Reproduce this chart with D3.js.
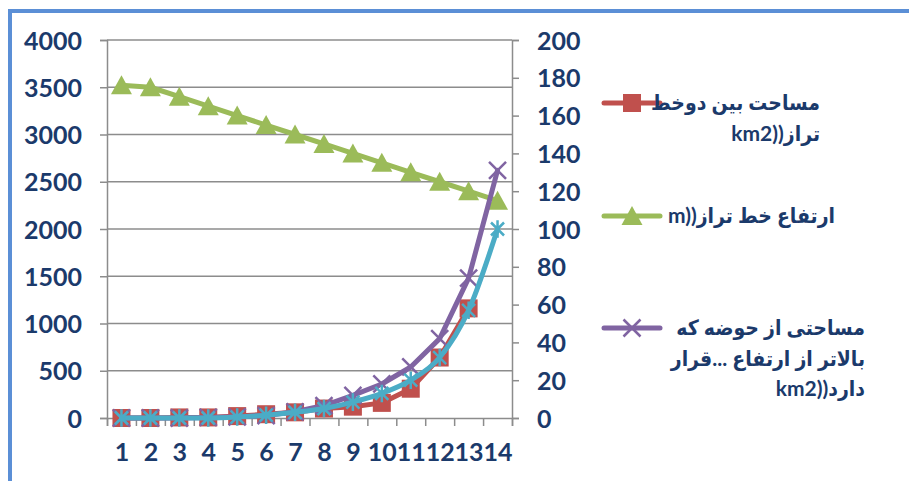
<!DOCTYPE html>
<html>
<head>
<meta charset="utf-8">
<script src="https://cdn.jsdelivr.net/npm/d3@7"></script>
<style>
  html, body { margin: 0; padding: 0; background: #fff; }
  svg { display: block; }
  text { font-family: Lato, "DejaVu Sans", sans-serif; font-weight: bold; fill: #1B3A6B; }
  text.legend-text { font-family: Lato, "DejaVu Sans Condensed", "DejaVu Sans", sans-serif; }
</style>
</head>
<body>
<svg id="chart" width="909" height="481"></svg>
<script>
// ---- data ----
const categories = [1, 2, 3, 4, 5, 6, 7, 8, 9, 10, 11, 12, 13, 14];
// elevation of contour line (m) - left axis
const elevation = [3520, 3500, 3400, 3300, 3200, 3100, 3000, 2900, 2800, 2700, 2600, 2500, 2400, 2300];
// area between two contour lines (km2) - right axis
const areaBetween = [0, 0, 0.3, 0.3, 1, 2, 3, 5, 6, 8, 15.5, 32, 58, null];
// area of basin above elevation (km2) - right axis
const areaAbove = [0, 0, 0, 0.3, 0.6, 1.3, 3.3, 6.6, 12, 18, 27, 42, 74, 131];
// fourth series (smoothed) - right axis
const areaSmooth = [0, 0, 0, 0, 0.5, 1.5, 3, 5, 8.4, 13, 20, 32, 57, 100];
const leftTicks = [0, 500, 1000, 1500, 2000, 2500, 3000, 3500, 4000];
const rightTicks = [0, 20, 40, 60, 80, 100, 120, 140, 160, 180, 200];
const legendLabels = [
  ["مساحت بین دوخط", "km2))تراز"],
  ["m))ارتفاع خط تراز"],
  ["مساحتی از حوضه که", "بالاتر از ارتفاع ...قرار", "km2))دارد"]
];

// ---- layout ----
const svg = d3.select("#chart");
const plot = { left: 107, right: 512, top: 40, bottom: 418 };
const colors = { red: "#C0504D", green: "#9BBB59", purple: "#8064A2", cyan: "#4BACC6" };
const gridColor = "#8C8C8C";

// outer border (blue)
svg.append("path")
  .attr("d", "M10,481 L10,11 L909,11")
  .attr("fill", "none").attr("stroke", "#5B8FD6").attr("stroke-width", 4);

const x = d3.scaleLinear().domain([0.5, 14.5]).range([plot.left, plot.right]);
const yL = d3.scaleLinear().domain([0, 4000]).range([plot.bottom, plot.top]);
const yR = d3.scaleLinear().domain([0, 200]).range([plot.bottom, plot.top]);

// gridlines
svg.append("g").selectAll("line").data(leftTicks.slice(1)).join("line")
  .attr("x1", plot.left).attr("x2", plot.right)
  .attr("y1", d => yL(d)).attr("y2", d => yL(d))
  .attr("stroke", gridColor).attr("stroke-width", 1.5);

// left axis
const gL = svg.append("g").attr("transform", `translate(${plot.left},0)`)
  .call(d3.axisLeft(yL).tickValues(leftTicks).tickSize(7).tickPadding(18).tickFormat(d3.format("d")));
// right axis
const gR = svg.append("g").attr("transform", `translate(${plot.right},0)`)
  .call(d3.axisRight(yR).tickValues(rightTicks).tickSize(7).tickPadding(18).tickFormat(d3.format("d")));
// bottom axis ticks at category boundaries
const bounds = d3.range(0.5, 15, 1);
const gB = svg.append("g").attr("transform", `translate(0,${plot.bottom})`)
  .call(d3.axisBottom(x).tickValues(bounds).tickSize(8).tickFormat(""));
// bottom labels
const gBL = svg.append("g").attr("transform", `translate(0,${plot.bottom})`)
  .call(d3.axisBottom(x).tickValues(categories).tickSize(0).tickPadding(25).tickFormat(d3.format("d")));
gBL.select(".domain").remove();

[gL, gR, gB].forEach(g => {
  g.selectAll(".domain").attr("stroke", gridColor).attr("stroke-width", 1.5);
  g.selectAll(".tick line").attr("stroke", gridColor).attr("stroke-width", 1.5);
});
[gL, gR, gBL].forEach(g => {
  g.selectAll("text").style("font-size", "25px").attr("fill", "#1B3A6B");
});
gL.selectAll(".tick text").attr("dy", "0.36em");
gR.selectAll(".tick text").attr("dy", "0.36em");

// ---- series ----
const lineGen = (yScale, curve) => d3.line()
  .defined(d => d.v != null)
  .x(d => x(d.c)).y(d => yScale(d.v))
  .curve(curve || d3.curveLinear);
const toPts = arr => categories.map((c, i) => ({ c, v: arr[i] }));

function squareMarker(g, px, py, color) {
  g.append("rect").attr("x", px - 9).attr("y", py - 9).attr("width", 18).attr("height", 18)
    .attr("fill", color);
}
function triMarker(g, px, py, color) {
  g.append("path").attr("d", `M${px},${py - 10} L${px + 10.5},${py + 9} L${px - 10.5},${py + 9} Z`)
    .attr("fill", color);
}
function xMarker(g, px, py, color, s) {
  g.append("path").attr("d", `M${px - s},${py - s} L${px + s},${py + s} M${px - s},${py + s} L${px + s},${py - s}`)
    .attr("stroke", color).attr("stroke-width", 2.5).attr("fill", "none");
}
function starMarker(g, px, py, color, s) {
  g.append("path").attr("d", `M${px - s},${py - s} L${px + s},${py + s} M${px - s},${py + s} L${px + s},${py - s} M${px},${py - s * 1.35} L${px},${py + s * 1.35}`)
    .attr("stroke", color).attr("stroke-width", 2.5).attr("fill", "none");
}

const series = [
  { data: areaBetween, y: yR, color: colors.red, marker: squareMarker, curve: d3.curveLinear },
  { data: elevation, y: yL, color: colors.green, marker: triMarker, curve: d3.curveLinear },
  { data: areaAbove, y: yR, color: colors.purple, marker: (g, px, py, c) => xMarker(g, px, py, c, 8.5), curve: d3.curveLinear },
  { data: areaSmooth, y: yR, color: colors.cyan, marker: (g, px, py, c) => starMarker(g, px, py, c, 6.5), curve: d3.curveMonotoneX }
];

series.forEach(s => {
  const g = svg.append("g");
  const pts = toPts(s.data);
  g.append("path").datum(pts)
    .attr("d", lineGen(s.y, s.curve))
    .attr("fill", "none").attr("stroke", s.color).attr("stroke-width", 5)
    .attr("stroke-linejoin", "round").attr("stroke-linecap", "round");
  pts.filter(d => d.v != null).forEach(d => s.marker(g, x(d.c), s.y(d.v), s.color));
});

// ---- legend ----
const legendEntries = [
  { color: colors.red, marker: squareMarker, y: 103, right: 820, lines: legendLabels[0] },
  { color: colors.green, marker: triMarker, y: 216, right: 835, lines: legendLabels[1] },
  { color: colors.purple, marker: (g, px, py, c) => xMarker(g, px, py, c, 8.5), y: 328, right: 865, lines: legendLabels[2] }
];
const lg = svg.append("g");
legendEntries.forEach(e => {
  lg.append("line").attr("x1", 604).attr("x2", 660).attr("y1", e.y).attr("y2", e.y)
    .attr("stroke", e.color).attr("stroke-width", 5).attr("stroke-linecap", "round");
  e.marker(lg, 632, e.y, e.color);
  e.lines.forEach((t, i) => {
    lg.append("text").attr("class", "legend-text").attr("x", e.right).attr("y", e.y + i * 30.5)
      .attr("dy", "0.35em").attr("text-anchor", "end")
      .style("font-size", "21px").text(t);
  });
});
</script>
</body>
</html>
